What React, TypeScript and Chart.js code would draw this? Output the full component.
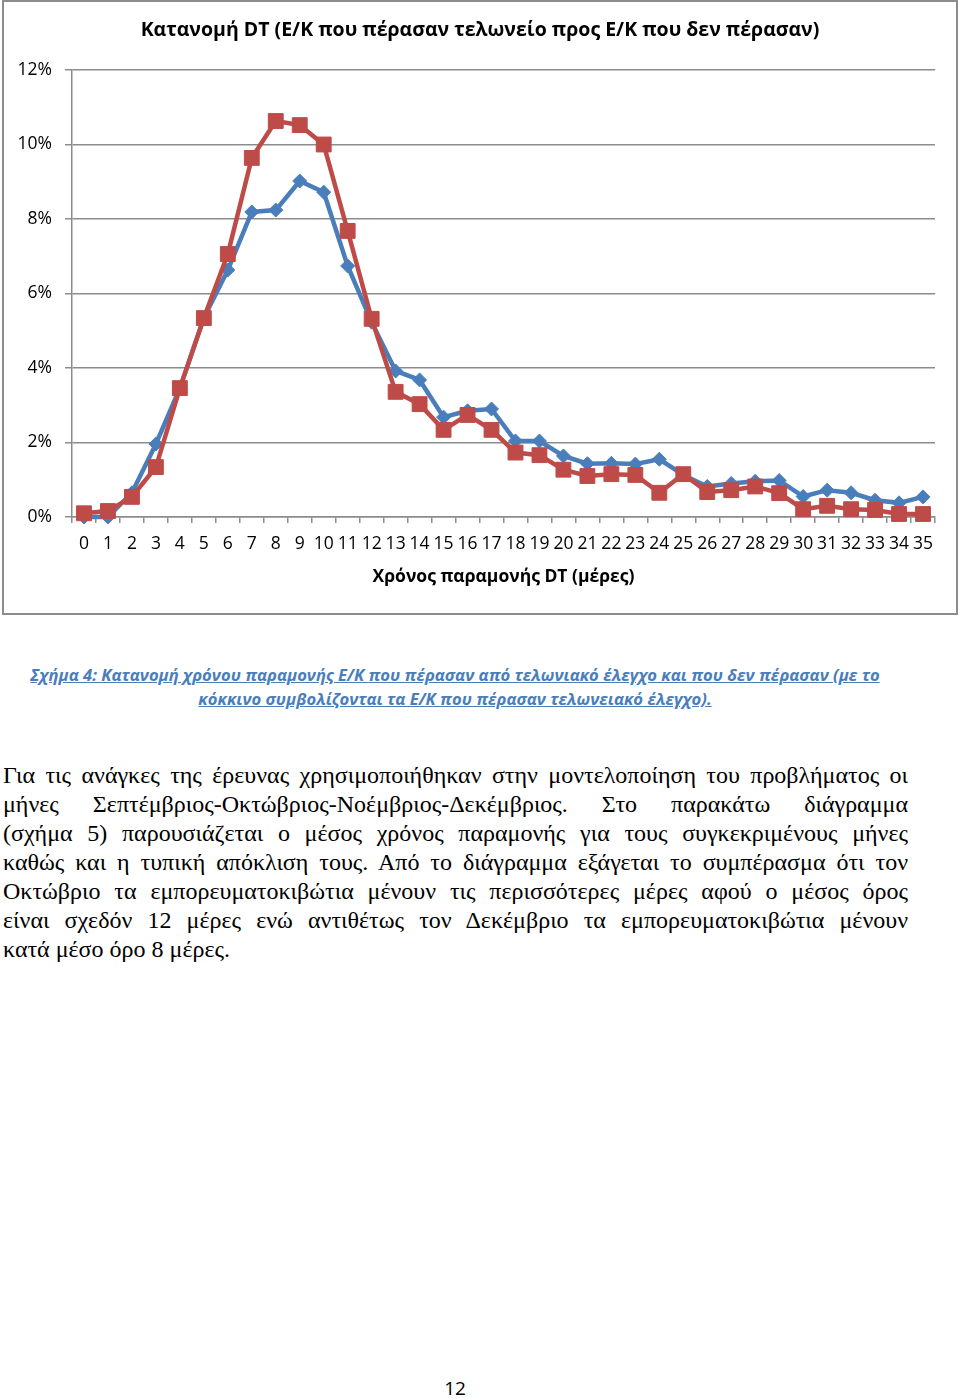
import React, { useEffect, useRef } from "react";
import { Chart, registerables } from "chart.js";

Chart.register(...registerables);

const days: string[] = [
  "0","1","2","3","4","5","6","7","8","9","10","11","12","13","14","15","16","17",
  "18","19","20","21","22","23","24","25","26","27","28","29","30","31","32","33","34","35",
];

// % of containers that did NOT pass customs control (blue)
const notPassed: number[] = [
  0.0, 0.0, 0.65, 1.96, 3.46, 5.34, 6.63, 8.19, 8.24, 9.02, 8.72, 6.74,
  5.23, 3.92, 3.68, 2.68, 2.85, 2.9, 2.04, 2.04, 1.64, 1.43, 1.44, 1.42,
  1.55, 1.13, 0.82, 0.9, 0.96, 0.98, 0.55, 0.72, 0.65, 0.45, 0.38, 0.54,
];

// % of containers that passed customs control (red)
const passed: number[] = [
  0.1, 0.16, 0.54, 1.34, 3.46, 5.34, 7.06, 9.64, 10.63, 10.52, 10.0, 7.68,
  5.32, 3.36, 3.03, 2.34, 2.74, 2.34, 1.73, 1.66, 1.27, 1.1, 1.15, 1.13,
  0.65, 1.15, 0.67, 0.72, 0.82, 0.64, 0.21, 0.3, 0.21, 0.19, 0.08, 0.08,
];

const yMax = 12;
const yStep = 2;

const chartTitle = "Κατανομή DT (Ε/Κ που πέρασαν τελωνείο προς Ε/Κ που δεν πέρασαν)";
const xTitle = "Χρόνος παραμονής DT (μέρες)";

const captionLines: string[] = [
  "Σχήμα 4: Κατανομή χρόνου παραμονής Ε/Κ που πέρασαν από τελωνιακό έλεγχο και που δεν πέρασαν (με το",
  "κόκκινο συμβολίζονται τα Ε/Κ που πέρασαν τελωνειακό έλεγχο).",
];

const paragraphLines: string[] = [
  "Για τις ανάγκες της έρευνας χρησιμοποιήθηκαν στην μοντελοποίηση του προβλήματος οι",
  "μήνες Σεπτέμβριος-Οκτώβριος-Νοέμβριος-Δεκέμβριος. Στο παρακάτω διάγραμμα",
  "(σχήμα 5) παρουσιάζεται ο μέσος χρόνος παραμονής για τους συγκεκριμένους μήνες",
  "καθώς και η τυπική απόκλιση τους. Από το διάγραμμα εξάγεται το συμπέρασμα ότι τον",
  "Οκτώβριο τα εμπορευματοκιβώτια μένουν τις περισσότερες μέρες αφού ο μέσος όρος",
  "είναι σχεδόν 12 μέρες ενώ αντιθέτως τον Δεκέμβριο τα εμπορευματοκιβώτια μένουν",
  "κατά μέσο όρο 8 μέρες.",
];

const pageNumber = "12";

const BLUE = "#4A7EBB";
const RED = "#BE4B48";
const GRID = "#8C8C8C";
const SANS = "'Open Sans', 'Noto Sans', sans-serif";

// Draws the chart title centred on the chart box (the box spans the page width)
const centeredTitlePlugin = {
  id: "centeredTitle",
  afterDraw(chart: any) {
    const { ctx, width } = chart;
    ctx.save();
    ctx.font = `bold 19.5px ${SANS}`;
    ctx.fillStyle = "#000";
    ctx.textAlign = "center";
    ctx.textBaseline = "middle";
    ctx.fillText(chartTitle, width / 2, 30);
    ctx.restore();
  },
};

export default function App() {
  const canvasRef = useRef<HTMLCanvasElement | null>(null);

  useEffect(() => {
    if (!canvasRef.current) return;
    const chart = new Chart(canvasRef.current, {
      type: "line",
      data: {
        labels: days,
        datasets: [
          {
            label: "Δεν πέρασαν",
            data: notPassed,
            borderColor: BLUE,
            backgroundColor: BLUE,
            borderWidth: 4.5,
            pointStyle: "rectRot",
            pointRadius: 7,
            pointBorderWidth: 1,
            pointBorderColor: BLUE,
            pointBackgroundColor: BLUE,
            tension: 0,
            clip: false,
            order: 2,
          },
          {
            label: "Πέρασαν",
            data: passed,
            borderColor: RED,
            backgroundColor: RED,
            borderWidth: 4.5,
            pointStyle: "rect",
            pointRadius: 10.5,
            pointBorderWidth: 1,
            pointBorderColor: RED,
            pointBackgroundColor: RED,
            tension: 0,
            clip: false,
            order: 1,
          },
        ],
      },
      plugins: [centeredTitlePlugin],
      options: {
        animation: false,
        responsive: true,
        maintainAspectRatio: false,
        layout: { padding: { left: 0, right: 25, top: 70, bottom: 0 } },
        plugins: {
          legend: { display: false },
          tooltip: { enabled: false },
          title: { display: false },
        },
        scales: {
          x: {
            type: "category",
            offset: true,
            grid: {
              display: true,
              drawOnChartArea: false,
              drawTicks: true,
              tickLength: 6,
              offset: true,
              color: GRID,
              lineWidth: 1.5,
            },
            border: { display: true, color: GRID, width: 1.5 },
            ticks: {
              autoSkip: false,
              maxRotation: 0,
              minRotation: 0,
              padding: 11,
              color: "#000",
              font: { family: SANS, size: 17.5, lineHeight: 1.2 },
            },
            title: {
              display: true,
              text: xTitle,
              color: "#000",
              font: { family: SANS, size: 17.5, weight: "bold", lineHeight: 1.2 },
              padding: { top: 0, bottom: 27 },
            },
            afterFit: (scale: any) => {
              scale.height = 98;
            },
          },
          y: {
            min: 0,
            max: yMax,
            grid: {
              display: true,
              color: GRID,
              lineWidth: 1.5,
              drawTicks: true,
              tickLength: 7,
            },
            border: { display: true, color: GRID, width: 1.5 },
            ticks: {
              stepSize: yStep,
              padding: 13,
              color: "#000",
              font: { family: SANS, size: 17.5, lineHeight: 1.2 },
              callback: (v: any) => `${v}%`,
            },
            afterFit: (scale: any) => {
              scale.width = 72;
            },
          },
        },
      },
    });
    return () => chart.destroy();
  }, []);

  return (
    <div style={{ position: "absolute", left: 0, top: 0, width: 960, height: 1399, background: "#fff" }}>
      <div
        style={{
          position: "absolute",
          left: 2,
          top: 0,
          width: 956,
          height: 615,
          boxSizing: "border-box",
          border: `2px solid ${GRID}`,
        }}
      />
      <div style={{ position: "absolute", left: 0, top: 0, width: 960, height: 615 }}>
        <canvas ref={canvasRef} />
      </div>
      <div
        style={{
          position: "absolute",
          left: 0,
          top: 663,
          width: 910,
          textAlign: "center",
          color: BLUE,
          fontFamily: SANS,
          fontStyle: "italic",
          fontWeight: "bold",
          fontSize: 16.6,
          lineHeight: "24px",
          textDecoration: "underline",
          whiteSpace: "nowrap",
        }}
      >
        {captionLines.map((l, i) => (
          <div key={i}>{l}</div>
        ))}
      </div>
      <div
        style={{
          position: "absolute",
          left: 3,
          top: 761,
          width: 905,
          fontFamily: "'Liberation Serif', 'Times New Roman', serif",
          fontSize: 24,
          lineHeight: "29px",
          color: "#000",
        }}
      >
        {paragraphLines.map((l, i) => (
          <div
            key={i}
            style={{
              textAlign: i < paragraphLines.length - 1 ? "justify" : "left",
              textAlignLast: i < paragraphLines.length - 1 ? "justify" : "left",
              whiteSpace: "nowrap",
            }}
          >
            {l}
          </div>
        ))}
      </div>
      <div
        style={{
          position: "absolute",
          left: 0,
          top: 1375,
          width: 910,
          textAlign: "center",
          fontFamily: SANS,
          fontSize: 19,
          lineHeight: "26px",
          color: "#000",
        }}
      >
        {pageNumber}
      </div>
    </div>
  );
}
